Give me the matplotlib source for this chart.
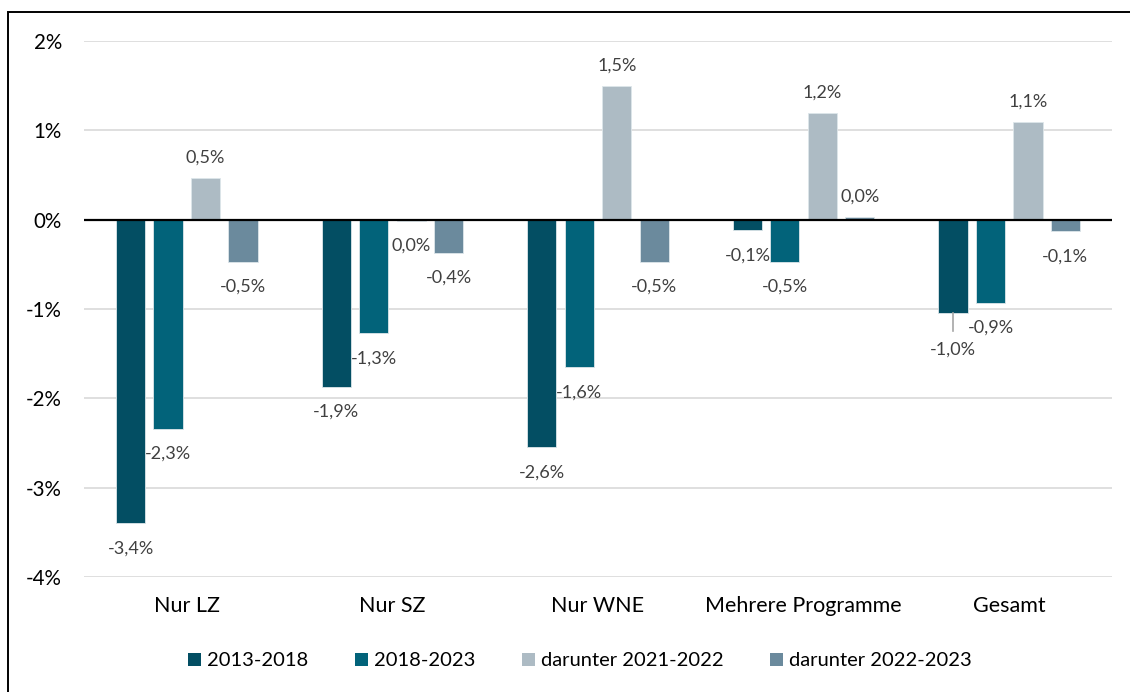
import matplotlib
matplotlib.use("Agg")
import matplotlib.pyplot as plt
import numpy as np
from matplotlib.patches import Rectangle

categories = ["Nur LZ", "Nur SZ", "Nur WNE", "Mehrere Programme", "Gesamt"]
series_names = ["2013-2018", "2018-2023", "darunter 2021-2022", "darunter 2022-2023"]
v_2013_2018 = [-3.40, -1.87, -2.55, -0.12, -1.04]
v_2018_2023 = [-2.34, -1.27, -1.65, -0.47, -0.93]
v_2021_2022 = [0.47, -0.01, 1.50, 1.19, 1.09]
v_2022_2023 = [-0.47, -0.37, -0.47, 0.03, -0.13]
labels_2013_2018 = ["-3,4%", "-1,9%", "-2,6%", "-0,1%", "-1,0%"]
labels_2018_2023 = ["-2,3%", "-1,3%", "-1,6%", "-0,5%", "-0,9%"]
labels_2021_2022 = ["0,5%", "0,0%", "1,5%", "1,2%", "1,1%"]
labels_2022_2023 = ["-0,5%", "-0,4%", "-0,5%", "0,0%", "-0,1%"]
yticks = [-4, -3, -2, -1, 0, 1, 2]
ytick_labels = ["-4%", "-3%", "-2%", "-1%", "0%", "1%", "2%"]

colors = ["#034E63", "#02637A", "#ADBBC4", "#6B8A9D"]
series = [v_2013_2018, v_2018_2023, v_2021_2022, v_2022_2023]
labels = [labels_2013_2018, labels_2018_2023, labels_2021_2022, labels_2022_2023]

plt.rcParams['font.family'] = ['Lato', 'DejaVu Sans']

W, H = 1130, 692
fig = plt.figure(figsize=(W / 100, H / 100), dpi=100)
ax = fig.add_axes([84 / W, 1 - 577 / H, (1112 - 84) / W, (577 - 41) / H])

x = np.arange(len(categories))
bw = 0.142
step = 0.182
offsets = (np.arange(4) - 1.5) * step

for i in range(4):
    ax.bar(x + offsets[i], series[i], width=bw, color=colors[i],
           edgecolor="#DDE6EA", linewidth=0.6, label=series_names[i], zorder=3)

LBL_FS = 13
for i in range(4):
    for j in range(len(categories)):
        v = series[i][j]
        lab = labels[i][j]
        xx = x[j] + offsets[i]
        if v >= 0.0:
            ax.annotate(lab, (xx, v), xytext=(0, 9), textcoords="offset points",
                        ha="center", va="bottom", fontsize=LBL_FS, color="#404040", zorder=5)
        elif categories[j] == "Gesamt" and i == 0:
            ax.annotate(lab, (xx, v), xytext=(0, -21), textcoords="offset points",
                        ha="center", va="top", fontsize=LBL_FS, color="#404040", zorder=5)
            ax.plot([xx, xx], [v, v - 0.21], color="#A6A6A6", lw=1.2, zorder=4)
        else:
            ax.annotate(lab, (xx, v), xytext=(0, -12.5), textcoords="offset points",
                        ha="center", va="top", fontsize=LBL_FS, color="#404040", zorder=5)

ax.set_ylim(-4, 2)
ax.set_xlim(-0.5, len(categories) - 0.5)
ax.set_yticks(yticks)
ax.set_yticklabels(ytick_labels, fontsize=14.8, color="#000000")
ax.set_xticks(x)
ax.set_xticklabels(categories, fontsize=15.5, color="#000000")
ax.tick_params(axis="both", length=0)
ax.tick_params(axis="y", pad=16)
ax.tick_params(axis="x", pad=14)
ax.grid(axis="y", color="#D9D9D9", lw=1.2, zorder=0)
ax.axhline(0, color="#000000", lw=1.6, zorder=4)
for s in ax.spines.values():
    s.set_visible(False)

handles, labs = ax.get_legend_handles_labels()
leg = fig.legend(handles, labs, loc="center", bbox_to_anchor=(580 / W, 1 - 661 / H),
                 ncol=4, frameon=False, fontsize=14.5, handlelength=0.65, handleheight=0.65,
                 handletextpad=0.3, columnspacing=2.3)
for h in leg.legend_handles:
    h.set_edgecolor("none")

fig.patches.append(Rectangle((8 / W, -0.05), 1.2, (1 - 12 / H) + 0.05,
                             transform=fig.transFigure, fill=False,
                             edgecolor="#000000", lw=1.4))

fig.savefig("out.png", dpi=100)
